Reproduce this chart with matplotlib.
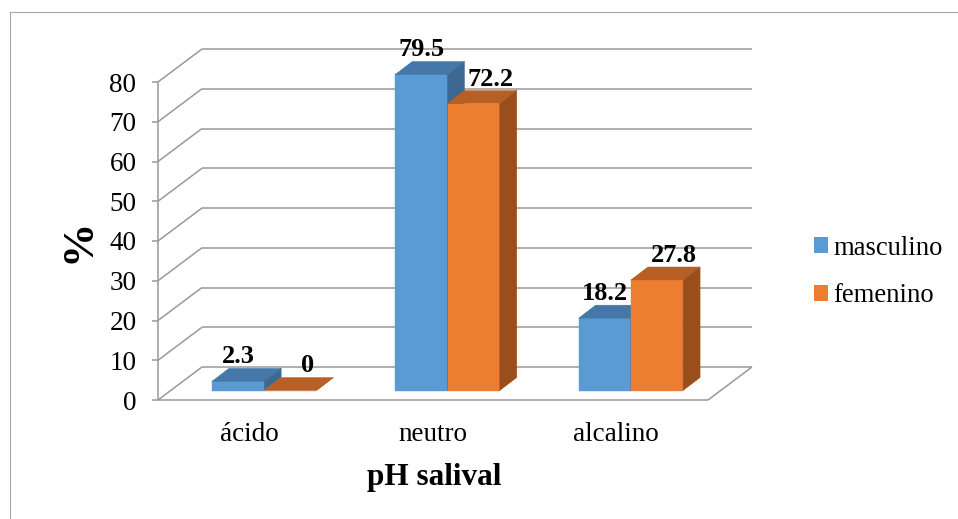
import matplotlib
matplotlib.use('Agg')
import matplotlib.pyplot as plt
from matplotlib.transforms import IdentityTransform
from matplotlib.patches import Polygon, Patch
from matplotlib.lines import Line2D
import numpy as np

# ---- data ----
categories = ['ácido', 'neutro', 'alcalino']
series_names = ['masculino', 'femenino']
masculino = [2.3, 79.5, 18.2]
femenino = [0, 72.2, 27.8]
yticks = [0, 10, 20, 30, 40, 50, 60, 70, 80]

# ---- style ----
W, H, DPI = 958, 519, 100
SERIF = ['Liberation Serif', 'DejaVu Serif']
front_cols = ['#5B9BD5', '#ED7D31']
top_cols = ['#4577A8', '#B85F24']
side_cols = ['#3D6891', '#994E1C']
grid_col = '#999999'

DEPTH = np.array([44.0, 33.0])       # full depth of floor (px)
BAR_FRONT = np.array([14.5, 9.5])    # front face of bars (px)
BAR_DEPTH = np.array([17.0, 13.0])   # depth of bars (px)

fig = plt.figure(figsize=(W / DPI, H / DPI), dpi=DPI)
ax = fig.add_axes([158 / W, 1 - 400 / H, (708 - 158) / W, (400 - 82) / H])
ax.set_xlim(0, len(categories))
ax.set_ylim(0, max(yticks))
ax.autoscale(False)
for s in ['top', 'right', 'bottom']:
    ax.spines[s].set_visible(False)
ax.spines['left'].set_color(grid_col)
ax.spines['left'].set_linewidth(1.1)
ax.patch.set_alpha(0)

ax.set_yticks(yticks)
ax.set_yticklabels([str(v) for v in yticks], fontfamily=SERIF, fontsize=19.5)
ax.tick_params(axis='y', length=4.5, width=1.1, color=grid_col, pad=11)
ax.set_xticks(np.arange(len(categories)) + 0.5)
ax.set_xticklabels(categories, fontfamily=SERIF, fontsize=19.5)
ax.tick_params(axis='x', length=0, pad=16)

fig.canvas.draw()
T = ax.transData
ident = IdentityTransform()


def P(x, y, off=(0, 0)):
    return T.transform((x, y)) + np.asarray(off)


def line(pts, **kw):
    pts = np.asarray(pts)
    ax.add_line(Line2D(pts[:, 0], pts[:, 1], transform=ident, clip_on=False,
                       color=grid_col, lw=1.1, solid_capstyle='butt', **kw))


def poly(pts, color, z):
    ax.add_patch(Polygon(np.asarray(pts), closed=True, transform=ident, clip_on=False,
                         facecolor=color, edgecolor=color, lw=0.3, zorder=z))


x_max = len(categories)
# back wall gridlines and side wall diagonals
for v in yticks:
    line([P(0, v, DEPTH), P(x_max, v, DEPTH)], zorder=1)
    line([P(0, v), P(0, v, DEPTH)], zorder=1)
# floor front and right edge
line([P(0, 0), P(x_max, 0)], zorder=1)
line([P(x_max, 0), P(x_max, 0, DEPTH)], zorder=1)

# bars
w = 0.285
series = [masculino, femenino]
z = 3
for i in range(len(categories)):
    for j, vals in enumerate(series):
        v = vals[i]
        x0 = i + 0.5 - w + j * w
        x1 = x0 + w
        f = BAR_FRONT
        b = BAR_FRONT + BAR_DEPTH
        poly([P(x0, 0, f), P(x1, 0, f), P(x1, v, f), P(x0, v, f)], front_cols[j], z)
        poly([P(x0, v, f), P(x1, v, f), P(x1, v, b), P(x0, v, b)], top_cols[j], z)
        poly([P(x1, 0, f), P(x1, v, f), P(x1, v, b), P(x1, 0, b)], side_cols[j], z)
        z += 1
        # data label
        extra_x = 0 if j == 0 else 17
        lx, ly = P((x0 + x1) / 2, v, b + np.array([-BAR_DEPTH[0] + extra_x, 5]))
        ax.text(lx, ly, f'{v:g}', transform=ident, ha='center', va='baseline',
                fontfamily=SERIF, fontsize=19, fontweight='bold', zorder=20)

# axis titles
fig.text(434 / W, 1 - 485 / H, 'pH salival', ha='center', va='baseline',
         fontfamily=SERIF, fontsize=22.5, fontweight='bold')
fig.text(79 / W, 1 - 241 / H, '%', ha='center', va='center', rotation=90,
         fontfamily=SERIF, fontsize=32, fontweight='bold')

# legend
handles = [Patch(facecolor=c, edgecolor='none') for c in front_cols]
fig.legend(handles, series_names, loc='center left',
           bbox_to_anchor=(814 / W, 1 - 272 / H), frameon=False,
           prop={'family': SERIF, 'size': 19.2}, handlelength=0.52, handleheight=0.52,
           handletextpad=0.22, labelspacing=0.85, borderpad=0, borderaxespad=0)

# chart border (top and left)
fig.add_artist(Line2D([10 / W, 1], [1 - 12 / H, 1 - 12 / H], transform=fig.transFigure,
                      color='#A6A6A6', lw=0.8))
fig.add_artist(Line2D([10 / W, 10 / W], [0, 1 - 12 / H], transform=fig.transFigure,
                      color='#A6A6A6', lw=0.8))

fig.savefig('out.png', dpi=DPI)
